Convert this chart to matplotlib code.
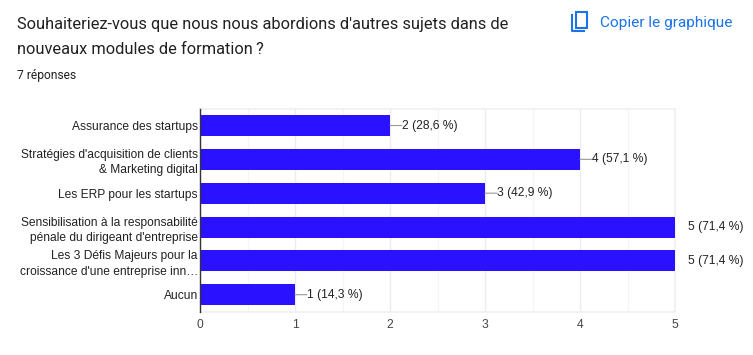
import matplotlib
matplotlib.use("Agg")
import matplotlib.pyplot as plt
from matplotlib.patches import Rectangle
from matplotlib.lines import Line2D

W, H = 753, 355
categories = ["Assurance des startups",
              "Stratégies d'acquisition de clients\n& Marketing digital",
              "Les ERP pour les startups",
              "Sensibilisation à la responsabilité\npénale du dirigeant d'entreprise",
              "Les 3 Défis Majeurs pour la\ncroissance d'une entreprise inn…",
              "Aucun"]
values = [2, 4, 3, 5, 5, 1]
value_labels = ["2 (28,6 %)", "4 (57,1 %)", "3 (42,9 %)", "5 (71,4 %)", "5 (71,4 %)", "1 (14,3 %)"]
x_ticks = [0, 1, 2, 3, 4, 5]
title_lines = ["Souhaiteriez-vous que nous nous abordions d'autres sujets dans de",
               "nouveaux modules de formation\u2009?"]
subtitle = "7 réponses"
copy_label = "Copier le graphique"

PX = 72 / 100
fig = plt.figure(figsize=(W / 100, H / 100), dpi=100, facecolor="white")
L, R, T, B = 200, 675, 108.6, 311.6
ax = fig.add_axes([L / W, 1 - B / H, (R - L) / W, (B - T) / H])
ax.set_xlim(0, 5)
ax.set_ylim(5.5, -0.5)
ypos = list(range(len(categories)))
ax.barh(ypos, values, height=0.62, color="#2a11ff", zorder=3)

ax.set_axisbelow(True)
ax.set_xticks(x_ticks)
ax.set_xticks([t + .5 for t in x_ticks[:-1]], minor=True)
ax.grid(True, axis="x", which="major", color="#ececec", lw=1)
ax.grid(True, axis="x", which="minor", color="#f5f5f5", lw=1)
for s in ("top", "right", "bottom"):
    ax.spines[s].set_color("#f0f0f0")
    ax.spines[s].set_linewidth(1.2)
ax.spines["left"].set_color("#333333")
ax.spines["left"].set_linewidth(1)
ax.spines["left"].set_zorder(5)

ax.set_yticks(ypos)
ax.set_yticklabels(categories, fontsize=12 * PX, family="Liberation Sans",
                   color="#222222", linespacing=1.38)
ax.tick_params(axis="y", length=0, pad=1.5)
ax.tick_params(axis="x", which="both", length=0, pad=5)
for t in ax.get_xticklabels():
    t.set_fontsize(12 * PX)
    t.set_family("Liberation Sans")
    t.set_color("#444444")

for y, v, lab in zip(ypos, values, value_labels):
    if v == 5:
        ax.annotate(lab, (v, y), xytext=(13 * PX, 0), textcoords="offset points",
                    va="center", ha="left", fontsize=12 * PX,
                    family="Liberation Sans", color="#222222", annotation_clip=False)
    else:
        ax.annotate(lab, (v, y), xytext=(12 * PX, 0), textcoords="offset points",
                    va="center", ha="left", fontsize=12 * PX,
                    family="Liberation Sans", color="#222222",
                    arrowprops=dict(arrowstyle="-", color="#999999", lw=0.8,
                                    shrinkA=0, shrinkB=0, patchA=None,
                                    relpos=(0, 0.5)))

for i, line in enumerate(title_lines):
    fig.text(17 / W, 1 - (24.5 + 25 * i) / H, line, fontsize=16.35 * PX,
             family=["Roboto", "DejaVu Sans"], color="#212121", va="center", ha="left")
fig.text(17 / W, 1 - 75.5 / H, subtitle, fontsize=12 * PX, family="Roboto",
         color="#212121", va="center", ha="left")
fig.text(600 / W, 1 - 22.5 / H, copy_label, fontsize=15.4 * PX, family="Roboto",
         weight="normal", color="#1a73e8", va="center", ha="left")


def fx(x):
    return x / W


def fy(y):
    return 1 - y / H


# copy icon
fig.add_artist(Rectangle((fx(576), fy(27.5)), 11 / W, 15 / H, fill=False,
                         ec="#1a73e8", lw=1.5, transform=fig.transFigure))
fig.add_artist(Line2D([fx(572), fx(572), fx(584)], [fy(15), fy(31), fy(31)],
                      color="#1a73e8", lw=1.5, transform=fig.transFigure))

fig.savefig("out.png", dpi=100, facecolor="white")
